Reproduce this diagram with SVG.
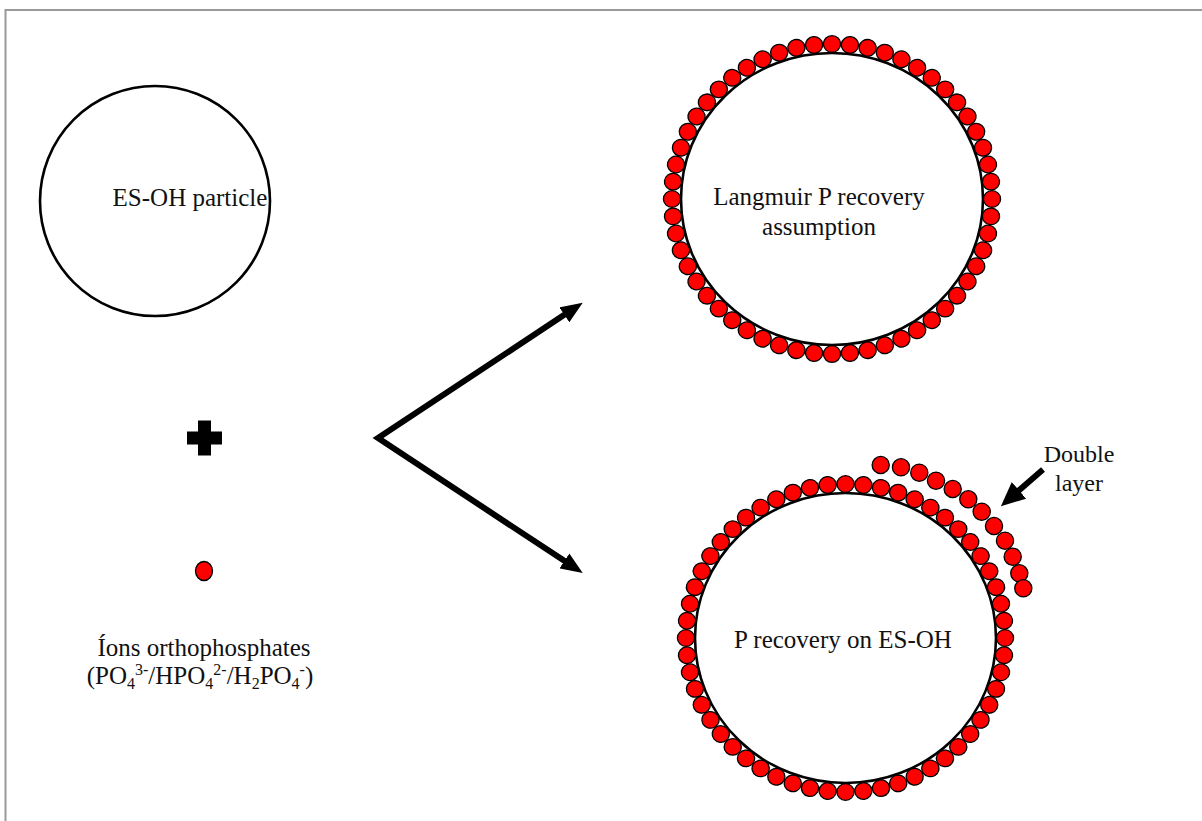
<svg xmlns="http://www.w3.org/2000/svg" xmlns:xlink="http://www.w3.org/1999/xlink" width="1202" height="821" viewBox="0 0 1202 821">
<style>
.lbl{font-family:"Liberation Serif","Times New Roman",serif;font-size:25px;fill:#111;}
.sm{font-size:24px;}
.ring{fill:#fff;stroke:#000;stroke-width:2.6;}
.dot{fill:#ff0000;stroke:#000;stroke-width:1.3;}
.arr{fill:none;stroke:#000;stroke-width:6;stroke-linejoin:miter;}
</style>
<defs>
<circle id="d" class="dot" cx="0" cy="0" r="8.6"/>
<marker id="ah" viewBox="0 0 22 18" refX="4" refY="9" markerWidth="22" markerHeight="18" markerUnits="userSpaceOnUse" orient="auto-start-reverse">
<path d="M0,0 L22,9 L0,18 z" fill="#000"/>
</marker>
<marker id="ah2" viewBox="0 0 24 22" refX="4" refY="11" markerWidth="24" markerHeight="22" markerUnits="userSpaceOnUse" orient="auto">
<path d="M0,0 L24,11 L0,22 z" fill="#000"/>
</marker>
</defs>
<rect width="1202" height="821" fill="#fff"/>
<path d="M5.5,821 V10 H1202" fill="none" stroke="#9a9a9a" stroke-width="2"/>

<g id="particle">
<circle class="ring" cx="155" cy="201" r="115"/>
<text class="lbl" x="190" y="206" text-anchor="middle">ES-OH particle</text>
</g>

<g id="plus">
<path d="M198,420.5 H211 V431.5 H222 V444.5 H211 V455.5 H198 V444.5 H187 V431.5 H198 z" fill="#000"/>
</g>

<g id="ion">
<ellipse class="dot" cx="204" cy="571" rx="8.5" ry="9.5" stroke-width="1.5"/>
<text class="lbl" x="204" y="656" text-anchor="middle">Íons orthophosphates</text>
<text class="lbl" x="200" y="684" text-anchor="middle">(PO<tspan dy="5" font-size="16">4</tspan><tspan dy="-14" font-size="16">3-</tspan><tspan dy="9">/HPO</tspan><tspan dy="5" font-size="16">4</tspan><tspan dy="-14" font-size="16">2-</tspan><tspan dy="9">/H</tspan><tspan dy="5" font-size="16">2</tspan><tspan dy="-5">PO</tspan><tspan dy="5" font-size="16">4</tspan><tspan dy="-14" font-size="16">-</tspan><tspan dy="9">)</tspan></text>
</g>

<g id="langmuir">
<ellipse class="ring" cx="832" cy="199" rx="151" ry="146"/>
<g transform="translate(832,199) scale(1,0.969)">
<use href="#d" transform="rotate(0) translate(160,0)"/>
<use href="#d" transform="rotate(6.43) translate(160,0)"/>
<use href="#d" transform="rotate(12.86) translate(160,0)"/>
<use href="#d" transform="rotate(19.29) translate(160,0)"/>
<use href="#d" transform="rotate(25.71) translate(160,0)"/>
<use href="#d" transform="rotate(32.14) translate(160,0)"/>
<use href="#d" transform="rotate(38.57) translate(160,0)"/>
<use href="#d" transform="rotate(45) translate(160,0)"/>
<use href="#d" transform="rotate(51.43) translate(160,0)"/>
<use href="#d" transform="rotate(57.86) translate(160,0)"/>
<use href="#d" transform="rotate(64.29) translate(160,0)"/>
<use href="#d" transform="rotate(70.71) translate(160,0)"/>
<use href="#d" transform="rotate(77.14) translate(160,0)"/>
<use href="#d" transform="rotate(83.57) translate(160,0)"/>
<use href="#d" transform="rotate(90) translate(160,0)"/>
<use href="#d" transform="rotate(96.43) translate(160,0)"/>
<use href="#d" transform="rotate(102.86) translate(160,0)"/>
<use href="#d" transform="rotate(109.29) translate(160,0)"/>
<use href="#d" transform="rotate(115.71) translate(160,0)"/>
<use href="#d" transform="rotate(122.14) translate(160,0)"/>
<use href="#d" transform="rotate(128.57) translate(160,0)"/>
<use href="#d" transform="rotate(135) translate(160,0)"/>
<use href="#d" transform="rotate(141.43) translate(160,0)"/>
<use href="#d" transform="rotate(147.86) translate(160,0)"/>
<use href="#d" transform="rotate(154.29) translate(160,0)"/>
<use href="#d" transform="rotate(160.71) translate(160,0)"/>
<use href="#d" transform="rotate(167.14) translate(160,0)"/>
<use href="#d" transform="rotate(173.57) translate(160,0)"/>
<use href="#d" transform="rotate(180) translate(160,0)"/>
<use href="#d" transform="rotate(186.43) translate(160,0)"/>
<use href="#d" transform="rotate(192.86) translate(160,0)"/>
<use href="#d" transform="rotate(199.29) translate(160,0)"/>
<use href="#d" transform="rotate(205.71) translate(160,0)"/>
<use href="#d" transform="rotate(212.14) translate(160,0)"/>
<use href="#d" transform="rotate(218.57) translate(160,0)"/>
<use href="#d" transform="rotate(225) translate(160,0)"/>
<use href="#d" transform="rotate(231.43) translate(160,0)"/>
<use href="#d" transform="rotate(237.86) translate(160,0)"/>
<use href="#d" transform="rotate(244.29) translate(160,0)"/>
<use href="#d" transform="rotate(250.71) translate(160,0)"/>
<use href="#d" transform="rotate(257.14) translate(160,0)"/>
<use href="#d" transform="rotate(263.57) translate(160,0)"/>
<use href="#d" transform="rotate(270) translate(160,0)"/>
<use href="#d" transform="rotate(276.43) translate(160,0)"/>
<use href="#d" transform="rotate(282.86) translate(160,0)"/>
<use href="#d" transform="rotate(289.29) translate(160,0)"/>
<use href="#d" transform="rotate(295.71) translate(160,0)"/>
<use href="#d" transform="rotate(302.14) translate(160,0)"/>
<use href="#d" transform="rotate(308.57) translate(160,0)"/>
<use href="#d" transform="rotate(315) translate(160,0)"/>
<use href="#d" transform="rotate(321.43) translate(160,0)"/>
<use href="#d" transform="rotate(327.86) translate(160,0)"/>
<use href="#d" transform="rotate(334.29) translate(160,0)"/>
<use href="#d" transform="rotate(340.71) translate(160,0)"/>
<use href="#d" transform="rotate(347.14) translate(160,0)"/>
<use href="#d" transform="rotate(353.57) translate(160,0)"/>
</g>
<text class="lbl" x="819" y="205" text-anchor="middle">Langmuir P recovery</text>
<text class="lbl" x="819" y="235" text-anchor="middle">assumption</text>
</g>

<g id="esoh-recovery">
<ellipse class="ring" cx="845.5" cy="638" rx="150.5" ry="145"/>
<g transform="translate(845.5,638) scale(1,0.9655)">
<use href="#d" transform="rotate(0) translate(159.5,0)"/>
<use href="#d" transform="rotate(6.43) translate(159.5,0)"/>
<use href="#d" transform="rotate(12.86) translate(159.5,0)"/>
<use href="#d" transform="rotate(19.29) translate(159.5,0)"/>
<use href="#d" transform="rotate(25.71) translate(159.5,0)"/>
<use href="#d" transform="rotate(32.14) translate(159.5,0)"/>
<use href="#d" transform="rotate(38.57) translate(159.5,0)"/>
<use href="#d" transform="rotate(45) translate(159.5,0)"/>
<use href="#d" transform="rotate(51.43) translate(159.5,0)"/>
<use href="#d" transform="rotate(57.86) translate(159.5,0)"/>
<use href="#d" transform="rotate(64.29) translate(159.5,0)"/>
<use href="#d" transform="rotate(70.71) translate(159.5,0)"/>
<use href="#d" transform="rotate(77.14) translate(159.5,0)"/>
<use href="#d" transform="rotate(83.57) translate(159.5,0)"/>
<use href="#d" transform="rotate(90) translate(159.5,0)"/>
<use href="#d" transform="rotate(96.43) translate(159.5,0)"/>
<use href="#d" transform="rotate(102.86) translate(159.5,0)"/>
<use href="#d" transform="rotate(109.29) translate(159.5,0)"/>
<use href="#d" transform="rotate(115.71) translate(159.5,0)"/>
<use href="#d" transform="rotate(122.14) translate(159.5,0)"/>
<use href="#d" transform="rotate(128.57) translate(159.5,0)"/>
<use href="#d" transform="rotate(135) translate(159.5,0)"/>
<use href="#d" transform="rotate(141.43) translate(159.5,0)"/>
<use href="#d" transform="rotate(147.86) translate(159.5,0)"/>
<use href="#d" transform="rotate(154.29) translate(159.5,0)"/>
<use href="#d" transform="rotate(160.71) translate(159.5,0)"/>
<use href="#d" transform="rotate(167.14) translate(159.5,0)"/>
<use href="#d" transform="rotate(173.57) translate(159.5,0)"/>
<use href="#d" transform="rotate(180) translate(159.5,0)"/>
<use href="#d" transform="rotate(186.43) translate(159.5,0)"/>
<use href="#d" transform="rotate(192.86) translate(159.5,0)"/>
<use href="#d" transform="rotate(199.29) translate(159.5,0)"/>
<use href="#d" transform="rotate(205.71) translate(159.5,0)"/>
<use href="#d" transform="rotate(212.14) translate(159.5,0)"/>
<use href="#d" transform="rotate(218.57) translate(159.5,0)"/>
<use href="#d" transform="rotate(225) translate(159.5,0)"/>
<use href="#d" transform="rotate(231.43) translate(159.5,0)"/>
<use href="#d" transform="rotate(237.86) translate(159.5,0)"/>
<use href="#d" transform="rotate(244.29) translate(159.5,0)"/>
<use href="#d" transform="rotate(250.71) translate(159.5,0)"/>
<use href="#d" transform="rotate(257.14) translate(159.5,0)"/>
<use href="#d" transform="rotate(263.57) translate(159.5,0)"/>
<use href="#d" transform="rotate(270) translate(159.5,0)"/>
<use href="#d" transform="rotate(276.43) translate(159.5,0)"/>
<use href="#d" transform="rotate(282.86) translate(159.5,0)"/>
<use href="#d" transform="rotate(289.29) translate(159.5,0)"/>
<use href="#d" transform="rotate(295.71) translate(159.5,0)"/>
<use href="#d" transform="rotate(302.14) translate(159.5,0)"/>
<use href="#d" transform="rotate(308.57) translate(159.5,0)"/>
<use href="#d" transform="rotate(315) translate(159.5,0)"/>
<use href="#d" transform="rotate(321.43) translate(159.5,0)"/>
<use href="#d" transform="rotate(327.86) translate(159.5,0)"/>
<use href="#d" transform="rotate(334.29) translate(159.5,0)"/>
<use href="#d" transform="rotate(340.71) translate(159.5,0)"/>
<use href="#d" transform="rotate(347.14) translate(159.5,0)"/>
<use href="#d" transform="rotate(353.57) translate(159.5,0)"/>
</g>
<g id="outer-layer">
<use href="#d" x="880.7" y="465"/>
<use href="#d" x="901" y="467.3"/>
<use href="#d" x="919.3" y="472.7"/>
<use href="#d" x="936" y="480.7"/>
<use href="#d" x="952.7" y="489"/>
<use href="#d" x="968.3" y="499.3"/>
<use href="#d" x="981.7" y="511.7"/>
<use href="#d" x="994" y="526"/>
<use href="#d" x="1005" y="540.7"/>
<use href="#d" x="1012.7" y="556.7"/>
<use href="#d" x="1019.3" y="573.3"/>
<use href="#d" x="1023.3" y="588.3"/>
</g>
<text class="lbl" x="843" y="648" text-anchor="middle">P recovery on ES-OH</text>
</g>

<g id="double-layer">
<text class="lbl sm" x="1079" y="462" text-anchor="middle">Double</text>
<text class="lbl sm" x="1079" y="491" text-anchor="middle">layer</text>
</g>

<g id="connectors">
<path class="arr" d="M567.7,312.6 L378,438 L567.7,563.1" marker-start="url(#ah)" marker-end="url(#ah)"/>
<path class="arr" d="M1043,469.5 L1016,493" stroke-width="7" marker-end="url(#ah2)"/>
</g>
</svg>
